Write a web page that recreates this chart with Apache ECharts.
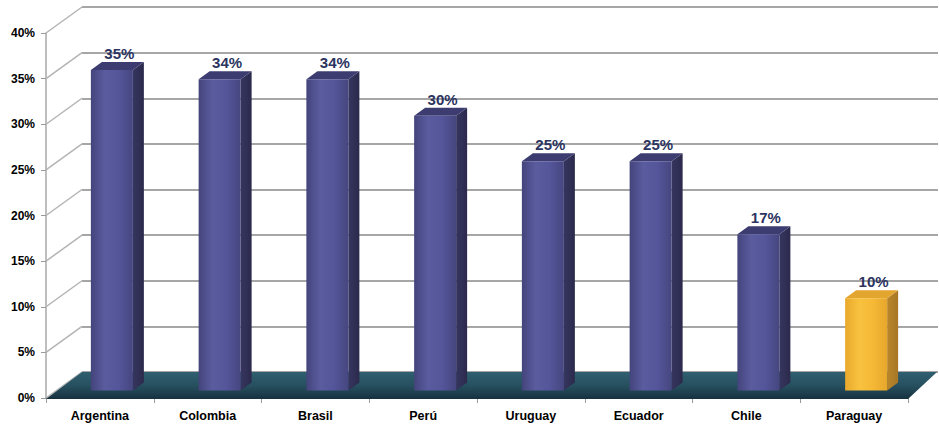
<!DOCTYPE html>
<html>
<head>
<meta charset="utf-8">
<script src="https://cdn.jsdelivr.net/npm/echarts@6/dist/echarts.min.js"></script>
<style>
html,body{margin:0;padding:0;background:#fff;}
#chart{width:939px;height:425px;}
</style>
</head>
<body>
<div id="chart"></div>
<script>
// ---- data ----
const categories = ['Argentina', 'Colombia', 'Brasil', 'Perú', 'Uruguay', 'Ecuador', 'Chile', 'Paraguay'];
const values = [35, 34, 34, 30, 25, 25, 17, 10];
const highlighted = [false, false, false, false, false, false, false, true];
const yTicks = [0, 5, 10, 15, 20, 25, 30, 35, 40];

// ---- styling constants ----
const FONT = '"Liberation Sans", Arial, sans-serif';
const DX = 36, DY = -26;          // depth of the 3D box
const BAR_SHIFT_X = 12, BAR_SHIFT_Y = -8.6; // bar front face position inside depth
const BAR_W = 42, BAR_DX = 11, BAR_DY = -8;

const chart = echarts.init(document.getElementById('chart'), null, {renderer: 'svg'});

function grad(stops, horiz) {
  return new echarts.graphic.LinearGradient(0, 0, horiz ? 1 : 0, horiz ? 0 : 1,
    stops.map((c, i) => ({offset: i / (stops.length - 1), color: c})));
}

const option = {
  animation: false,
  backgroundColor: '#ffffff',
  grid: [
    {left: 46, right: 31, top: 33, bottom: 27},
    {left: 82, right: 1, top: 7, bottom: 53}
  ],
  xAxis: [
    {
      type: 'category', gridIndex: 0, data: categories, offset: 2,
      axisLine: {show: true, lineStyle: {color: '#a8a8a8', width: 1.5}},
      axisTick: {show: true, length: 5, lineStyle: {color: '#9a9a9a'}},
      axisLabel: {color: '#000', fontFamily: FONT, fontWeight: 'bold', fontSize: 12.5, margin: 9}
    },
    {type: 'category', gridIndex: 1, data: categories, show: false}
  ],
  yAxis: [
    {
      type: 'value', gridIndex: 0, min: 0, max: 40, interval: 5,
      axisLine: {show: true, lineStyle: {color: '#a8a8a8', width: 1.5}},
      axisTick: {show: true, length: 5, lineStyle: {color: '#9a9a9a'}},
      splitLine: {show: false},
      axisLabel: {
        color: '#000', fontFamily: FONT, fontWeight: 'bold', fontSize: 12, margin: 11,
        formatter: v => (yTicks.indexOf(v) >= 0 ? v + '%' : '')
      }
    },
    {
      type: 'value', gridIndex: 1, min: 0, max: 40, interval: 5,
      axisLine: {show: false}, axisTick: {show: false}, axisLabel: {show: false},
      splitLine: {show: true, lineStyle: {color: '#a6a6a6', width: 2}}
    }
  ],
  series: [
    // left wall diagonals
    {
      type: 'custom', xAxisIndex: 0, yAxisIndex: 0, clip: false, silent: true, z: 1,
      data: yTicks.map(v => [0, v]),
      renderItem: function (params, api) {
        const y = api.coord([0, api.value(1)])[1];
        const x0 = params.coordSys.x;
        return {
          type: 'line',
          shape: {x1: x0, y1: y, x2: x0 + DX, y2: y + DY},
          style: {stroke: '#b4b4b4', lineWidth: 1.5}
        };
      }
    },
    // floor
    {
      type: 'custom', xAxisIndex: 0, yAxisIndex: 0, clip: false, silent: true, z: 2,
      data: [[0, 0]],
      renderItem: function (params, api) {
        const cs = params.coordSys;
        const y0 = api.coord([0, 0])[1];
        return {
          type: 'polygon',
          shape: {points: [
            [cs.x, y0 + 1], [cs.x + cs.width, y0 + 1],
            [cs.x + cs.width + 29, y0 + DY], [cs.x + DX, y0 + DY]
          ]},
          style: {fill: grad(['#2f5f70', '#27505f', '#163140'], false)}
        };
      }
    },
    // 3D bars
    {
      type: 'custom', xAxisIndex: 0, yAxisIndex: 0, clip: false, z: 3,
      data: values.map((v, i) => [i, v, highlighted[i] ? 1 : 0]),
      renderItem: function (params, api) {
        const idx = api.value(0), val = api.value(1), hi = api.value(2);
        const top = api.coord([idx, val]);
        const base = api.coord([idx, 0]);
        const cx = top[0] + BAR_SHIFT_X;
        const x0 = cx - BAR_W / 2, x1 = cx + BAR_W / 2;
        const yt = top[1] + BAR_SHIFT_Y, yb = base[1] + BAR_SHIFT_Y + 1;
        const front = hi ? grad(['#e9a82c', '#f8c23f', '#f5b836', '#e7a72c'], true)
                         : grad(['#44447c', '#5a5c9f', '#54559a', '#46467f'], true);
        const side = hi ? grad(['#b9862a', '#a87726'], true) : grad(['#36355f', '#2b2a4c'], true);
        const topc = hi ? '#e2a52e' : '#3d3c70';
        return {
          type: 'group',
          children: [
            {type: 'polygon', shape: {points: [[x1, yt], [x1 + BAR_DX, yt + BAR_DY], [x1 + BAR_DX, yb + BAR_DY], [x1, yb]]},
             style: {fill: side}},
            {type: 'polygon', shape: {points: [[x0, yt], [x0 + BAR_DX, yt + BAR_DY], [x1 + BAR_DX, yt + BAR_DY], [x1, yt]]},
             style: {fill: topc}},
            {type: 'rect', shape: {x: x0, y: yt, width: BAR_W, height: yb - yt}, style: {fill: front}},
            {type: 'text', style: {
              text: Math.round(val) + '%', x: cx + BAR_DX / 2 + 2, y: yt + BAR_DY - 1,
              align: 'center', verticalAlign: 'bottom',
              fill: '#2c3460', font: 'bold 15px ' + FONT
            }}
          ]
        };
      }
    }
  ]
};
chart.setOption(option);
</script>
</body>
</html>
